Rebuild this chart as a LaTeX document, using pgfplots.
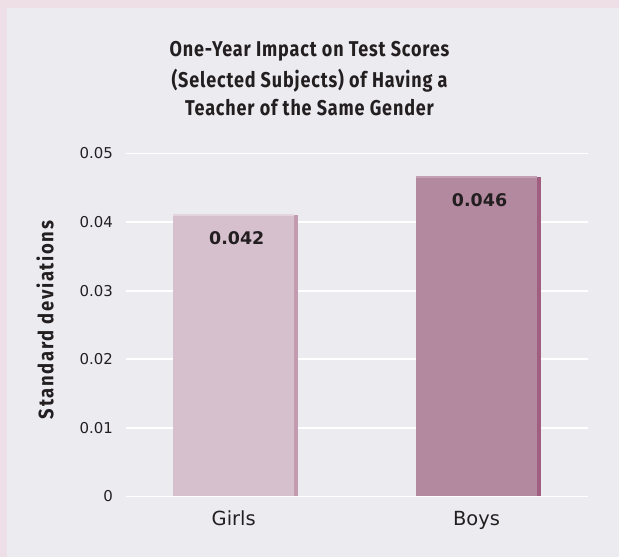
\documentclass[border=0pt]{standalone}
\usepackage{pgfplots}
\pgfplotsset{compat=1.18}
\usepackage{fontspec}
\setmainfont{DejaVu Sans}
\newfontfamily\titlefont[LetterSpace=4,FakeStretch=0.84]{Fira Sans}
\newfontfamily\ylabfont[LetterSpace=8,FakeStretch=0.88]{Fira Sans}
\definecolor{framecol}{RGB}{237,223,229}
\definecolor{bgcol}{RGB}{236,235,240}
\definecolor{txt}{RGB}{35,31,32}
\definecolor{gfront}{RGB}{214,192,205}
\definecolor{gside}{RGB}{196,154,176}
\definecolor{gtop}{RGB}{228,212,221}
\definecolor{bfront}{RGB}{179,137,160}
\definecolor{bside}{RGB}{160,95,128}
\definecolor{btop}{RGB}{196,160,180}
\begin{document}
\begin{tikzpicture}[x=1bp,y=1bp]
\fill[framecol] (0,0) rectangle (619,557);
\fill[bgcol] (7,0) rectangle (619,549);
\begin{scope}[every node/.style={text=txt, anchor=base, font=\titlefont\bfseries\fontsize{21.5}{26}\selectfont}]
\node at (309.5,500) {One-Year Impact on Test Scores};
\node at (309.5,469) {(Selected Subjects) of Having a};
\node at (309.5,441) {Teacher of the Same Gender};
\end{scope}
\node[text=txt, rotate=90, font=\ylabfont\bfseries\fontsize{21}{24}\selectfont] at (45,237) {Standard deviations};
\begin{axis}[
  at={(126bp,60.5bp)}, anchor=south west,
  scale only axis, width=462bp, height=343bp,
  xmin=-0.4436, xmax=1.459, ymin=0, ymax=0.05,
  axis line style={draw=none},
  major tick length=0pt,
  scaled y ticks=false,
  xtick={0,1}, xticklabels={Girls,Boys},
  ytick={0,0.01,0.02,0.03,0.04,0.05},
  yticklabels={0,0.01,0.02,0.03,0.04,0.05},
  ymajorgrids, major grid style={white, line width=1.8bp},
  yticklabel style={font=\fontsize{15}{17}\selectfont, text=txt, inner sep=0pt, xshift=-13bp},
  xticklabel style={font=\fontsize{19.5}{22}\selectfont, text=txt, inner sep=0pt, anchor=base, yshift=-29bp},
  clip=false,
]
\addplot[ybar, bar width=121bp, bar shift=0pt, fill=gtop, draw=none] coordinates {(0,0.04111)};
\addplot[ybar, bar width=121bp, bar shift=0pt, fill=gfront, draw=none] coordinates {(0,0.04082)};
\addplot[ybar, bar width=4bp, bar shift=62.5bp, fill=gside, draw=none] coordinates {(0,0.04105)};
\addplot[ybar, bar width=121bp, bar shift=0pt, fill=btop, draw=none] coordinates {(1,0.04665)};
\addplot[ybar, bar width=121bp, bar shift=0pt, fill=bfront, draw=none] coordinates {(1,0.04636)};
\addplot[ybar, bar width=4bp, bar shift=62.5bp, fill=bside, draw=none] coordinates {(1,0.04660)};
\node[text=txt, anchor=base, font=\bfseries\fontsize{17.5}{20}\selectfont] at (axis cs:0,0.04111) [yshift=-30bp, xshift=3bp] {0.042};
\node[text=txt, anchor=base, font=\bfseries\fontsize{17.5}{20}\selectfont] at (axis cs:1,0.04665) [yshift=-30bp, xshift=3bp] {0.046};
\end{axis}
\end{tikzpicture}
\end{document}
